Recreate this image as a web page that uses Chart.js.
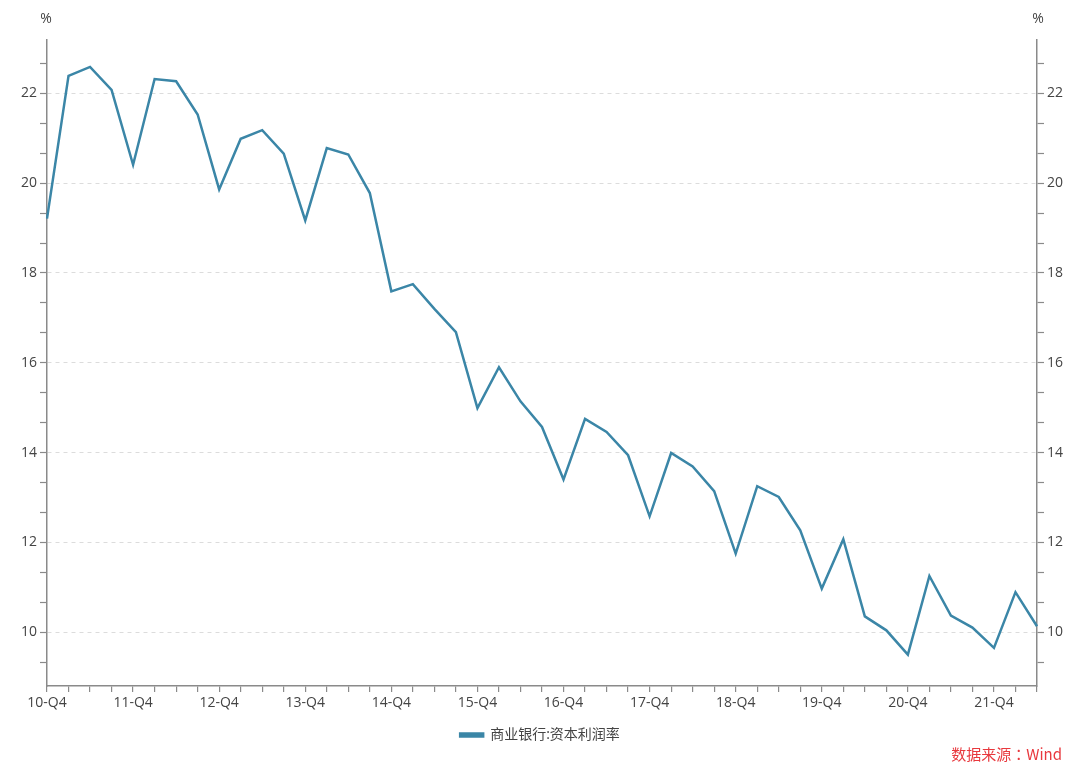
<!DOCTYPE html>
<html>
<head>
<meta charset="utf-8">
<script src="https://cdn.jsdelivr.net/npm/chart.js@4/dist/chart.umd.min.js"></script>
<style>
html,body{margin:0;padding:0;background:#fff;}
#wrap{position:relative;width:1080px;height:770px;}
#source{position:absolute;right:18px;top:743px;font:15px 'Noto Sans CJK SC','Open Sans',sans-serif;color:#e8383d;}
#source .c{font-family:'Noto Sans CJK TC','Noto Sans CJK SC',sans-serif;}
</style>
</head>
<body>
<div id="wrap">
<canvas id="c" width="1080" height="770"></canvas>
<div id="source">数据来源<span class="c">：</span>Wind</div>
</div>
<script>
const categories = [
 '10-Q4','11-Q1','11-Q2','11-Q3','11-Q4','12-Q1','12-Q2','12-Q3','12-Q4',
 '13-Q1','13-Q2','13-Q3','13-Q4','14-Q1','14-Q2','14-Q3','14-Q4',
 '15-Q1','15-Q2','15-Q3','15-Q4','16-Q1','16-Q2','16-Q3','16-Q4',
 '17-Q1','17-Q2','17-Q3','17-Q4','18-Q1','18-Q2','18-Q3','18-Q4',
 '19-Q1','19-Q2','19-Q3','19-Q4','20-Q1','20-Q2','20-Q3','20-Q4',
 '21-Q1','21-Q2','21-Q3','21-Q4','22-Q1','22-Q2'
];
const seriesName = '商业银行:资本利润率';
const roeValues = [
 19.21, 22.39, 22.59, 22.08, 20.41, 22.32, 22.27, 21.53, 19.86,
 20.99, 21.18, 20.66, 19.17, 20.78, 20.64, 19.78, 17.59,
 17.75, 17.20, 16.68, 14.99, 15.90, 15.14, 14.57, 13.40,
 14.75, 14.46, 13.94, 12.58, 13.99, 13.69, 13.14, 11.75,
 13.25, 13.01, 12.27, 10.97, 12.07, 10.35, 10.04, 9.50,
 11.25, 10.37, 10.10, 9.65, 10.89, 10.13
];
const yTickLabels = [10, 12, 14, 16, 18, 20, 22];
const yMin = 8.8, yMax = 23.2;

const FONT = "'Open Sans','Noto Sans CJK SC',sans-serif";
const AXIS = '#8a8a8a';
const TXT = '#444';

function buildYTicks(scale){
  const t = [];
  const first = yTickLabels[0];
  const step = 2/3;
  for (let k = -1; k <= (yTickLabels[yTickLabels.length-1]-first)/step + 1; k++){
    const v = first + k*step;
    if (v > yMin && v < yMax) t.push({value: v});
  }
  scale.ticks = t;
}
function isMajor(v){
  return yTickLabels.some(l => Math.abs(l - v) < 1e-6);
}
function yLabel(v){
  const m = yTickLabels.find(l => Math.abs(l - v) < 1e-6);
  return m === undefined ? '' : String(m);
}

const pctPlugin = {
  id:'pct',
  afterDraw(chart){
    const {ctx, chartArea} = chart;
    ctx.save();
    ctx.font = '14px ' + FONT;
    ctx.fillStyle = TXT;
    ctx.textAlign = 'center';
    ctx.textBaseline = 'middle';
    ctx.fillText('%', chartArea.left - 1, 19);
    ctx.fillText('%', chartArea.right + 1, 19);
    ctx.restore();
  }
};

const yCommon = {
  type:'linear', min:yMin, max:yMax,
  afterBuildTicks: buildYTicks,
  ticks:{autoSkip:false, color:TXT, font:{size:14, family:FONT}, padding:3,
         callback:(v)=>yLabel(v)},
  border:{color:AXIS, width:1.5, dash:[4,4]},
};

new Chart(document.getElementById('c'), {
  type:'line',
  data:{
    labels:categories,
    datasets:[{
      label:seriesName,
      data:roeValues,
      borderColor:'#3b86a7',
      backgroundColor:'#3b86a7',
      borderWidth:2.5,
      pointRadius:0,
      tension:0,
      yAxisID:'y'
    }]
  },
  options:{
    responsive:false,
    animation:false,
    devicePixelRatio:1,
    layout:{padding:{top:39.5, left:0, right:0, bottom:18}},
    plugins:{
      legend:{
        position:'bottom',
        labels:{boxWidth:23, boxHeight:3, color:TXT, font:{size:14, family:FONT}, padding:10}
      },
      tooltip:{enabled:false}
    },
    scales:{
      x:{
        type:'category',
        offset:false,
        grid:{offset:false, drawOnChartArea:false, tickLength:6, color:AXIS, tickColor:AXIS, lineWidth:1.2},
        border:{color:AXIS, width:1.5},
        ticks:{autoSkip:false, maxRotation:0, color:TXT, font:{size:14, family:FONT}, padding:3,
               callback:(v,i)=> i % 4 === 0 ? categories[i] : ''},
        afterFit:(s)=>{ s.height = 32; }
      },
      y:Object.assign({}, yCommon, {
        position:'left',
        grid:{
          color:(c)=> (c.tick && isMajor(c.tick.value)) ? '#dcdcdc' : 'rgba(0,0,0,0)',
          tickColor:AXIS, tickLength:7, lineWidth:1, tickWidth:1.2, tickBorderDash:[]
        },
        afterFit:(s)=>{ s.width = 47; }
      }),
      y2:Object.assign({}, yCommon, {
        position:'right',
        grid:{drawOnChartArea:false, tickColor:AXIS, tickLength:7, tickWidth:1.2, color:AXIS},
        border:{color:AXIS, width:1.5},
        afterFit:(s)=>{ s.width = 43; }
      })
    }
  },
  plugins:[pctPlugin]
});
</script>
</body>
</html>
